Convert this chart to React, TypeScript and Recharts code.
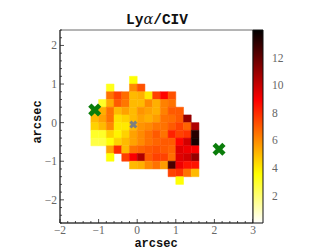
import React from "react";
import {
  ScatterChart,
  Scatter,
  XAxis,
  YAxis,
  ReferenceArea,
  BarChart,
  Bar,
} from "recharts";

// pixel centres (arcsec), 0.2" pixels
const colX = [-1.1, -0.9, -0.7, -0.5, -0.3, -0.1, 0.1, 0.3, 0.5, 0.7, 0.9, 1.1, 1.3, 1.5];
const rowY = [1.1, 0.9, 0.7, 0.5, 0.3, 0.1, -0.1, -0.3, -0.5, -0.7, -0.9, -1.1, -1.3, -1.5];

const _ = null;
const row0 = [_, _, _, _, _, 3.5, _, _, _, _, _, _, _, _];
const row1 = [_, _, 3.2, _, _, 6.0, 7.2, _, _, _, _, _, _, _];
const row2 = [_, _, 6.5, 7.5, 6.6, 5.0, 5.2, 4.0, 7.5, 8.8, 7.2, _, _, _];
const row3 = [_, 3.0, 5.3, 7.0, 6.4, 5.0, 5.0, 6.0, 5.2, 6.2, 6.5, _, _, _];
const row4 = [5.0, 5.2, 6.5, 5.0, 5.5, 5.0, 5.8, 5.5, 5.2, 6.2, 7.0, 7.0, _, _];
const row5 = [5.0, 5.5, 6.5, 4.2, 4.5, 5.0, 5.5, 5.2, 5.6, 6.5, 6.6, 7.0, 11.0, _];
const row6 = [4.5, 5.0, 6.0, 4.0, 4.0, 5.0, 5.8, 6.0, 6.4, 6.5, 7.0, 7.5, 6.8, 10.5];
const row7 = [3.0, 3.0, 4.5, 3.8, 4.5, 5.5, 6.0, 6.5, 7.0, 6.5, 8.2, 7.5, 7.8, 13.2];
const row8 = [2.6, 2.6, 3.5, 4.5, 5.0, 5.5, 6.0, 6.5, 6.8, 7.0, 7.0, 8.8, 9.8, 13.5];
const row9 = [_, _, 5.5, 8.0, 5.0, 6.5, 6.8, 7.0, 7.2, 7.0, 6.8, 9.5, 9.2, 9.0];
const row10 = [_, _, 3.5, _, 7.6, 9.0, 10.5, 7.0, 7.5, 7.5, 6.6, 9.5, 9.8, 11.0];
const row11 = [_, _, _, _, _, 5.0, 5.2, 6.0, 6.5, 5.6, 12.5, 9.2, 8.5, 8.5];
const row12 = [_, _, _, _, _, _, _, _, _, _, 7.5, 7.8, 6.5, 5.0];
const row13 = [_, _, _, _, _, _, _, _, _, _, _, 3.5, _, _];
const rows = [row0, row1, row2, row3, row4, row5, row6, row7, row8, row9, row10, row11, row12, row13];

const greenMarks = [
  { x: -1.1, y: 0.33 },
  { x: 2.12, y: -0.69 },
];
const greyMarks = [{ x: -0.1, y: -0.05 }];

const xMajor = [-2, -1, 0, 1, 2, 3];
const yMajor = [-2, -1, 0, 1, 2];
const cbTicks = [2, 4, 6, 8, 10, 12];
const cbMax = 14;
const colorbar = [{ name: "cb", v: cbMax }];

const xTicks = Array.from({ length: 26 }, (_, i) => +(-2 + 0.2 * i).toFixed(1));
const yTicks = Array.from({ length: 26 }, (_, i) => +(-2.6 + 0.2 * i).toFixed(1));

const HALF = 0.1;

// reversed "hot" colormap
function hotR(v: number) {
  const s = 1 - Math.min(Math.max(v / cbMax, 0), 1);
  const c = (t: number) => Math.round(Math.min(Math.max(t, 0), 1) * 255);
  const r = c(s / 0.365);
  const g = c((s - 0.365) / 0.381);
  const b = c((s - 0.746) / 0.254);
  return `rgb(${r},${g},${b})`;
}

const cells: { x: number; y: number; v: number }[] = [];
rows.forEach((r, j) =>
  r.forEach((v, i) => {
    if (v !== null) cells.push({ x: colX[i], y: rowY[j], v: v as number });
  })
);

const fmt = (v: number) => (v < 0 ? "\u2212" + Math.abs(v) : String(v));
const isMajor = (v: number, majors: number[]) => majors.some((m) => Math.abs(m - v) < 1e-6);

const tickFont = { fontFamily: "Liberation Serif", fontSize: 11.5, fill: "#666" };
const labelFont = { fontFamily: "Liberation Mono", fontWeight: 700 as const, fill: "#111" };

function XTick(props: any) {
  const { x, y, payload } = props;
  const major = isMajor(payload.value, xMajor);
  return (
    <g>
      <line x1={x} x2={x} y1={y} y2={y - (major ? 4 : 2)} stroke="#222" strokeWidth={0.8} />
      {major && (
        <text x={x} y={y + 11} textAnchor="middle" {...tickFont}>
          {fmt(payload.value)}
        </text>
      )}
    </g>
  );
}

function YTick(props: any) {
  const { x, y, payload } = props;
  const major = isMajor(payload.value, yMajor);
  return (
    <g>
      <line x1={x} x2={x + (major ? 4 : 2)} y1={y} y2={y} stroke="#222" strokeWidth={0.8} />
      {major && (
        <text x={x - 3} y={y + 4} textAnchor="end" {...tickFont}>
          {fmt(payload.value)}
        </text>
      )}
    </g>
  );
}

function Cross(size: number, width: number, color: string) {
  return (props: any) => {
    const { cx, cy } = props;
    const a = size;
    return (
      <g>
        <line x1={cx - a} y1={cy - a} x2={cx + a} y2={cy + a} stroke={color} strokeWidth={width} />
        <line x1={cx - a} y1={cy + a} x2={cx + a} y2={cy - a} stroke={color} strokeWidth={width} />
      </g>
    );
  };
}

export default function App() {
  return (
    <div style={{ position: "absolute", left: 0, top: 0, width: 316, height: 251 }}>
      <div style={{ position: "absolute", left: 0, top: 0 }}>
        <ScatterChart width={316} height={251} margin={{ top: 30, right: 63, bottom: 0, left: 0 }}>
          <XAxis
            type="number"
            dataKey="x"
            domain={[-2, 3]}
            ticks={xTicks}
            interval={0}
            height={28}
            tickSize={0}
            tickMargin={0}
            tickLine={false}
            tick={<XTick />}
            axisLine={{ stroke: "#222" }}
            allowDataOverflow
          />
          <YAxis
            type="number"
            dataKey="y"
            domain={[-2.6, 2.4]}
            ticks={yTicks}
            interval={0}
            width={60}
            tickSize={0}
            tickMargin={0}
            tickLine={false}
            tick={<YTick />}
            axisLine={{ stroke: "#222" }}
            allowDataOverflow
          />
          <ReferenceArea x1={-2} x2={3} y1={-2.6} y2={2.4} fill="none" stroke="#444" strokeWidth={0.8} />
          {cells.map((c, k) => (
            <ReferenceArea
              key={k}
              x1={c.x - HALF}
              x2={c.x + HALF}
              y1={c.y - HALF}
              y2={c.y + HALF}
              fill={hotR(c.v)}
              fillOpacity={1}
              stroke={hotR(c.v)}
              strokeWidth={0.5}
            />
          ))}
          <Scatter data={greenMarks} isAnimationActive={false} shape={Cross(4.9, 4.6, "#0a7d0a")} />
          <Scatter data={greyMarks} isAnimationActive={false} shape={Cross(2.9, 3, "#7f7f7f")} />
        </ScatterChart>
      </div>
      <div style={{ position: "absolute", left: 0, top: 0 }}>
        <BarChart
          width={316}
          height={251}
          data={colorbar}
          margin={{ top: 30, right: 0, bottom: 28, left: 253 }}
          barCategoryGap={0}
        >
          <defs>
            <linearGradient id="cbGrad" x1="0" y1="0" x2="0" y2="1">
              <stop offset="0" stopColor="#000000" />
              <stop offset="0.365" stopColor="#ff0000" />
              <stop offset="0.746" stopColor="#ffff00" />
              <stop offset="1" stopColor="#ffffff" />
            </linearGradient>
          </defs>
          <XAxis dataKey="name" hide />
          <YAxis
            orientation="right"
            type="number"
            domain={[0, cbMax]}
            ticks={cbTicks}
            width={53}
            axisLine={false}
            tickLine={false}
            tickMargin={3}
            tick={tickFont}
          />
          <Bar dataKey="v" fill="url(#cbGrad)" stroke="#111" strokeWidth={1} isAnimationActive={false} />
        </BarChart>
      </div>
      <svg width={316} height={251} style={{ position: "absolute", left: 0, top: 0, pointerEvents: "none" }}>
        <text x={157} y={24} textAnchor="middle" fontSize={14.5} {...labelFont}>
          Ly<tspan fontFamily="DejaVu Serif" fontStyle="italic" fontWeight={400}>α</tspan>/CIV
        </text>
        <text x={156} y={247} textAnchor="middle" fontSize={12} {...labelFont}>
          arcsec
        </text>
        <text x={41} y={122} textAnchor="middle" fontSize={12} transform="rotate(-90 41 122)" {...labelFont}>
          arcsec
        </text>
      </svg>
    </div>
  );
}
